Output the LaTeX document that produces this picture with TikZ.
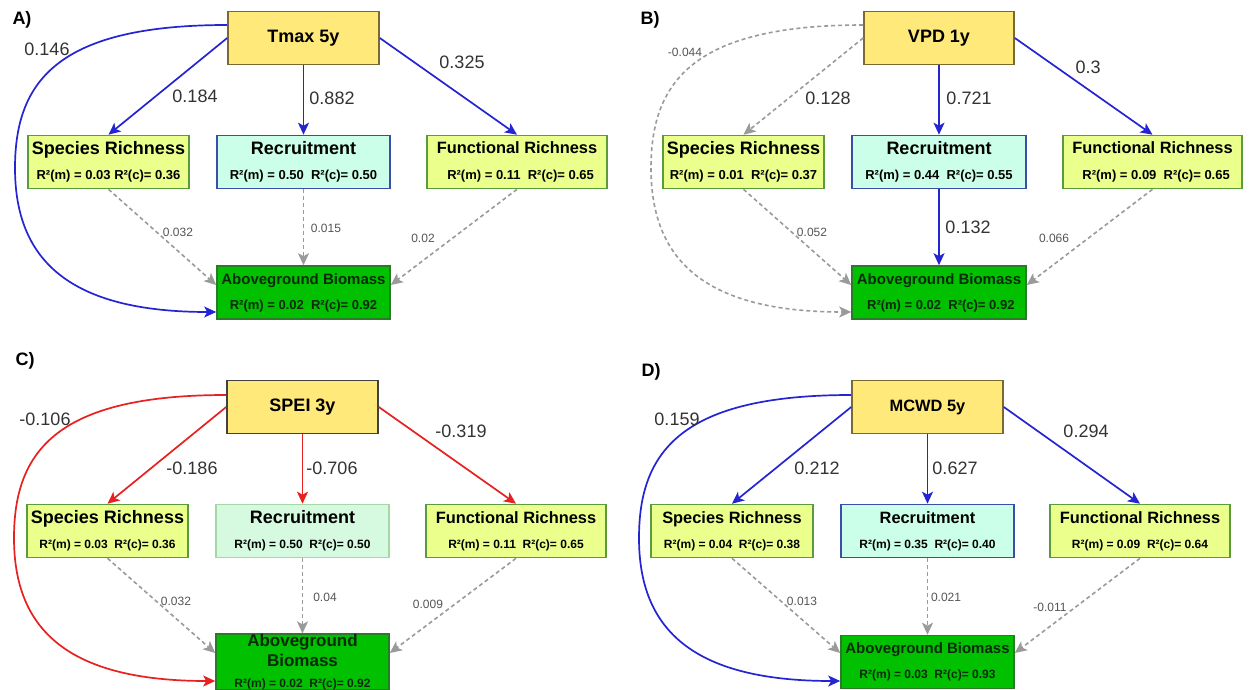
\documentclass[tikz,border=0pt]{standalone}
\usepackage{fontspec}
\setmainfont{Liberation Sans}
\usetikzlibrary{arrows.meta}
\definecolor{yfill}{HTML}{FFE97A}
\definecolor{ybrd}{HTML}{7A6A30}
\definecolor{gfill}{HTML}{EBFF8C}
\definecolor{gbrd}{HTML}{5B9B3B}
\definecolor{rfill}{HTML}{CCFFEA}
\definecolor{rbrd}{HTML}{3A4FA8}
\definecolor{rpfill}{HTML}{D6FADF}
\definecolor{rpbrd}{HTML}{A6D8A6}
\definecolor{bfill}{HTML}{00C000}
\definecolor{bbrd}{HTML}{2A7A2A}
\definecolor{btext}{HTML}{0A2A0A}
\definecolor{blu}{HTML}{2424D2}
\definecolor{red1}{HTML}{E82020}
\definecolor{gry}{HTML}{9A9A9A}
\definecolor{labc}{HTML}{333333}
\definecolor{slabc}{HTML}{555555}
\newcommand{\ttlf}{\fontsize{9}{12.6}\selectfont\bfseries}
\newcommand{\ttls}{\fontsize{8.2}{12.6}\selectfont\bfseries}
\newcommand{\rsqf}{\fontsize{6.5}{12.6}\selectfont\bfseries}
\newcommand{\rsqs}{\fontsize{6}{12.6}\selectfont\bfseries}
\newcommand{\bttl}{\fontsize{7.5}{12.5}\selectfont\bfseries}
\newcommand{\brsq}{\fontsize{6.5}{12.5}\selectfont\bfseries}
\tikzset{
  box/.style={draw, line width=0.8pt, minimum height=26.5pt, inner sep=0pt, align=center, text=black},
  ybox/.style={box, draw=ybrd, fill=yfill, font=\fontsize{9}{11}\selectfont\bfseries},
  gbox/.style={box, draw=gbrd, fill=gfill, font=\ttlf},
  fbox/.style={box, draw=gbrd, fill=gfill, font=\ttls},
  rbox/.style={box, draw=rbrd, fill=rfill, font=\ttlf},
  rpbox/.style={box, draw=rpbrd, fill=rpfill, font=\ttlf},
  bbox/.style={box, draw=bbrd, fill=bfill, text=btext, font=\bttl},
  >={Stealth[length=6pt,width=5.5pt,inset=1.5pt]},
  barrow/.style={draw=blu, line width=0.85pt, ->},
  rarrow/.style={draw=red1, line width=0.85pt, ->},
  darrow/.style={draw=gry, line width=0.8pt, dash pattern=on 2pt off 1.5pt, ->},
  lab/.style={text=labc, font=\fontsize{9}{11}\selectfont, inner sep=0pt},
  slab/.style={text=slabc, font=\fontsize{6}{7}\selectfont, inner sep=0pt},
  plab/.style={text=black, font=\fontsize{9}{11}\selectfont\bfseries, inner sep=0pt}
}
\begin{document}
\begin{tikzpicture}[x=0.5pt,y=-0.5pt]
\useasboundingbox (0,0) rectangle (1252,690);
\fill[white] (0,0) rectangle (1252,690);

% ---------------- Panel A ----------------
\node[plab] (pA) at (22,20) {A)};
\node[ybox, minimum width=75.5pt] (aT) at (303.5,38) {Tmax 5y};
\node[gbox, minimum width=80.5pt] (aS) at (108.5,162) {Species Richness\\\rsqf R²(m) = 0.03 R²(c)= 0.36};
\node[rbox, minimum width=86.5pt] (aR) at (303.5,162) {Recruitment\\\rsqf R²(m) = 0.50~ R²(c)= 0.50};
\node[fbox, minimum width=90pt] (aF) at (517,162) {Functional Richness\\\rsqf ~~R²(m) = 0.11~ R²(c)= 0.65};
\node[bbox, minimum width=86.5pt] (aB) at (303.5,292.5) {Aboveground Biomass\\\brsq R²(m) = 0.02~ R²(c)= 0.92};
\coordinate (aL) at (15,168);
\draw[barrow] (aT.west) -- (aS.north);
\draw[barrow] (aT.south) -- (aR.north);
\draw[barrow] (aT.east) -- (aF.north);
\draw[barrow] ([yshift=6.5pt]aT.west) .. controls +(-168,0) and +(0,-88) .. (aL) .. controls +(0,92) and +(-147,0) .. ([yshift=-9.75pt]aB.west);
\draw[darrow] (aS.south) -- ([yshift=3.75pt]aB.west);
\draw[darrow] (aR.south) -- (aB.north);
\draw[darrow] (aF.south) -- ([yshift=3.75pt]aB.east);
\node[lab] (la1) at (47,49) {0.146};
\node[lab] (la2) at (195,96) {0.184};
\node[lab] (la3) at (332,98) {0.882};
\node[lab] (la4) at (462,62) {0.325};
\node[slab] (la5) at (178,232) {0.032};
\node[slab] (la6) at (326,228) {0.015};
\node[slab] (la7) at (423,238) {0.02};

% ---------------- Panel B ----------------
\node[plab] (pB) at (650,20) {B)};
\node[ybox, minimum width=75pt] (bT) at (939,38) {VPD 1y};
\node[gbox, minimum width=80.5pt] (bS) at (743.5,162) {Species Richness\\\rsqf R²(m) = 0.01~ R²(c)= 0.37};
\node[rbox, minimum width=87pt] (bR) at (939,162) {Recruitment\\\rsqf R²(m) = 0.44~ R²(c)= 0.55};
\node[fbox, minimum width=89.5pt] (bF) at (1152.5,162) {Functional Richness\\\rsqf ~~R²(m) = 0.09~ R²(c)= 0.65};
\node[bbox, minimum width=87pt] (bB) at (939,292.5) {Aboveground Biomass\\\brsq ~R²(m) = 0.02~ R²(c)= 0.92};
\coordinate (bL) at (651,168);
\draw[darrow] (bT.west) -- (bS.north);
\draw[barrow] (bT.south) -- (bR.north);
\draw[barrow] (bT.east) -- (bF.north);
\draw[barrow] (bR.south) -- (bB.north);
\draw[darrow] ([yshift=6.5pt]bT.west) .. controls +(-168,0) and +(0,-88) .. (bL) .. controls +(0,92) and +(-147,0) .. ([yshift=-9.75pt]bB.west);
\draw[darrow] (bS.south) -- ([yshift=3.75pt]bB.west);
\draw[darrow] (bF.south) -- ([yshift=3.75pt]bB.east);
\node[slab] (lb1) at (685,52) {-0.044};
\node[lab] (lb2) at (828,98) {0.128};
\node[lab] (lb3) at (969,98) {0.721};
\node[lab] (lb4) at (1088,67) {0.3};
\node[lab] (lb5) at (968,227) {0.132};
\node[slab] (lb6) at (812,232) {0.052};
\node[slab] (lb7) at (1054,238) {0.066};

% ---------------- Panel C ----------------
\node[plab] (pC) at (25,361) {C)};
\node[ybox, minimum width=75.5pt, draw=black!75] (cT) at (302.5,407) {SPEI 3y};
\node[gbox, minimum width=80.5pt] (cS) at (107.5,531) {Species Richness\\\rsqs R²(m) = 0.03~ R²(c)= 0.36};
\node[rpbox, minimum width=86.5pt] (cR) at (302.5,531) {Recruitment\\\rsqs R²(m) = 0.50~ R²(c)= 0.50};
\node[fbox, minimum width=90pt] (cF) at (516,531) {Functional Richness\\\rsqs R²(m) = 0.11~ R²(c)= 0.65};
\node[bbox, minimum width=86.5pt, font=\fontsize{8.5}{10.2}\selectfont\bfseries] (cB) at (302.5,662) {Aboveground\\Biomass\\\fontsize{6}{9.5}\selectfont R²(m) = 0.02~ R²(c)= 0.92};
\coordinate (cL) at (14,538);
\draw[rarrow] (cT.west) -- (cS.north);
\draw[rarrow] (cT.south) -- (cR.north);
\draw[rarrow] (cT.east) -- (cF.north);
\draw[rarrow] ([yshift=6pt]cT.west) .. controls +(-168,0) and +(0,-88) .. (cL) .. controls +(0,92) and +(-147,0) .. ([yshift=-9.5pt]cB.west);
\draw[darrow] (cS.south) -- ([yshift=4.5pt]cB.west);
\draw[darrow] (cR.south) -- (cB.north);
\draw[darrow] (cF.south) -- ([yshift=4.5pt]cB.east);
\node[lab] (lc1) at (45,419) {-0.106};
\node[lab] (lc2) at (192,468) {-0.186};
\node[lab] (lc3) at (332,468) {-0.706};
\node[lab] (lc4) at (461,431) {-0.319};
\node[slab] (lc5) at (176,601) {0.032};
\node[slab] (lc6) at (325,597) {0.04};
\node[slab] (lc7) at (428,604) {0.009};

% ---------------- Panel D ----------------
\node[plab] (pD) at (651,372) {D)};
\node[ybox, minimum width=75.5pt, font=\fontsize{8.2}{10}\selectfont\bfseries] (dT) at (927.5,407) {MCWD 5y};
\node[fbox, minimum width=81pt] (dS) at (732,531) {Species Richness\\\rsqs R²(m) = 0.04~ R²(c)= 0.38};
\node[rbox, minimum width=86.5pt, font=\ttls] (dR) at (927.5,531) {Recruitment\\\rsqs R²(m) = 0.35~ R²(c)= 0.40};
\node[fbox, minimum width=90pt] (dF) at (1140,531) {Functional Richness\\\rsqs R²(m) = 0.09~ R²(c)= 0.64};
\node[bbox, minimum width=86.5pt] (dB) at (927.5,662) {Aboveground Biomass\\\fontsize{6}{12.5}\selectfont R²(m) = 0.03~ R²(c)= 0.93};
\coordinate (dL) at (639,538);
\draw[barrow] (dT.west) -- (dS.north);
\draw[barrow] (dT.south) -- (dR.north);
\draw[barrow] (dT.east) -- (dF.north);
\draw[barrow] ([yshift=6pt]dT.west) .. controls +(-168,0) and +(0,-88) .. (dL) .. controls +(0,92) and +(-147,0) .. ([yshift=-9.5pt]dB.west);
\draw[darrow] (dS.south) -- ([yshift=4.5pt]dB.west);
\draw[darrow] (dR.south) -- (dB.north);
\draw[darrow] (dF.south) -- ([yshift=4.5pt]dB.east);
\node[lab] (ld1) at (677,419) {0.159};
\node[lab] (ld2) at (817,468) {0.212};
\node[lab] (ld3) at (955,468) {0.627};
\node[lab] (ld4) at (1086,431) {0.294};
\node[slab] (ld5) at (802,601) {0.013};
\node[slab] (ld6) at (946,597) {0.021};
\node[slab] (ld7) at (1050,607) {-0.011};
\end{tikzpicture}
\end{document}
